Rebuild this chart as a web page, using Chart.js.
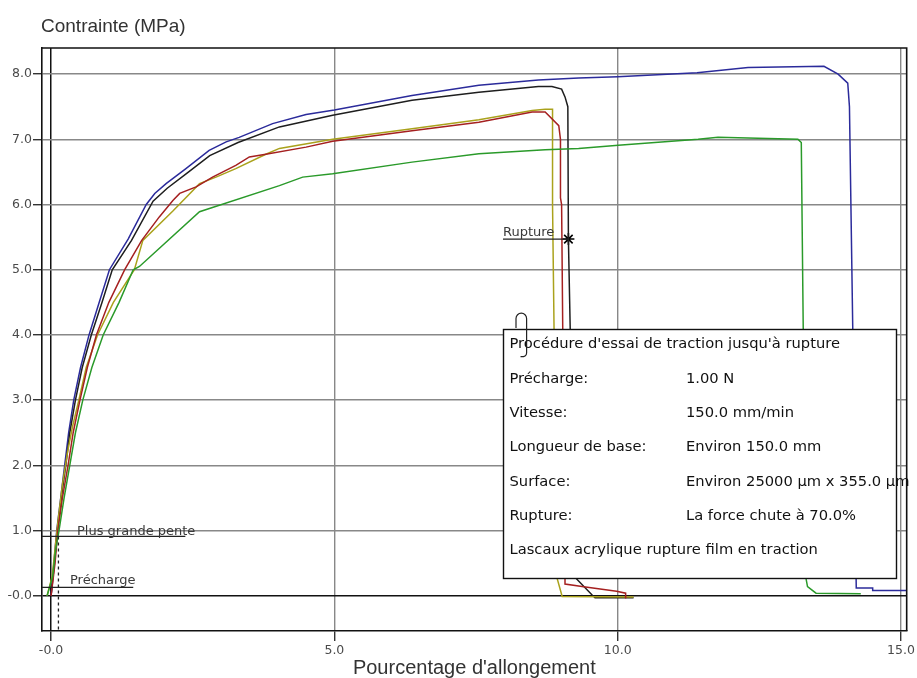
<!DOCTYPE html>
<html>
<head>
<meta charset="utf-8">
<script src="https://cdn.jsdelivr.net/npm/chart.js@4.4.1/dist/chart.umd.min.js"></script>
<style>
  html, body { margin: 0; padding: 0; background: #fff; }
  #wrap { width: 917px; height: 678px; }
</style>
</head>
<body>
<div id="wrap"><canvas id="chart" width="917" height="678"></canvas></div>
<script>
// Tensile test curves (strain %, stress MPa)
const blueStrain  = [0, 0.05, 0.1, 0.17, 0.24, 0.31, 0.4, 0.52, 0.67, 0.85, 1.03, 1.36, 1.68, 1.83, 2.03, 2.38, 2.79, 3.09, 3.32, 3.91, 4.5, 5.0, 6.37, 7.55, 8.6, 9.31, 10.0, 11.4, 12.3, 13.64, 13.89, 14.06, 14.09, 14.15, 14.21, 14.5, 14.5, 15.2];
const blueStress  = [0, 0.5, 1.0, 1.5, 2.0, 2.5, 3.0, 3.5, 4.0, 4.5, 5.0, 5.47, 6.0, 6.17, 6.32, 6.55, 6.83, 6.96, 7.03, 7.24, 7.38, 7.45, 7.67, 7.83, 7.91, 7.94, 7.96, 8.02, 8.1, 8.12, 8.0, 7.86, 7.5, 4.0, 0.12, 0.12, 0.08, 0.08];

const blackStrain = [0, 0.06, 0.11, 0.18, 0.26, 0.33, 0.43, 0.55, 0.71, 0.9, 1.08, 1.42, 1.8, 2.05, 2.4, 2.8, 3.3, 4.03, 4.97, 6.37, 7.55, 8.6, 8.84, 9.01, 9.07, 9.12, 9.13, 9.25, 9.54, 9.6, 10.28];
const blackStress = [0, 0.5, 1.0, 1.5, 2.0, 2.5, 3.0, 3.5, 4.0, 4.5, 5.0, 5.45, 6.05, 6.25, 6.48, 6.75, 6.95, 7.19, 7.37, 7.6, 7.72, 7.81, 7.81, 7.77, 7.65, 7.5, 5.47, 0.28, 0.02, -0.03, -0.03];

const redStrain   = [0, 0.07, 0.12, 0.2, 0.3, 0.39, 0.51, 0.64, 0.8, 1.02, 1.3, 1.6, 1.91, 2.15, 2.27, 2.56, 2.85, 3.26, 3.5, 3.79, 4.5, 4.97, 6.37, 7.55, 8.49, 8.72, 8.96, 8.99, 8.99, 9.01, 9.07, 9.07, 9.4, 9.98, 10.14, 10.14];
const redStress   = [0, 0.5, 1.0, 1.5, 2.0, 2.5, 3.0, 3.5, 4.0, 4.5, 5.0, 5.45, 5.81, 6.06, 6.17, 6.27, 6.42, 6.6, 6.73, 6.77, 6.88, 6.97, 7.13, 7.26, 7.42, 7.42, 7.21, 7.0, 6.1, 6.0, 0.28, 0.18, 0.14, 0.07, 0.04, -0.04];

const oliveStrain = [-0.07, 0.02, 0.08, 0.13, 0.2, 0.29, 0.38, 0.49, 0.62, 0.82, 1.1, 1.47, 1.62, 2.15, 2.62, 2.91, 3.26, 3.79, 4.03, 4.97, 6.37, 7.55, 8.49, 8.72, 8.85, 8.85, 8.93, 9.02, 10.28];
const oliveStress = [0, 0.3, 0.8, 1.2, 1.7, 2.2, 2.6, 3.0, 3.5, 4.0, 4.5, 5.0, 5.45, 5.9, 6.32, 6.42, 6.55, 6.77, 6.86, 7.0, 7.16, 7.3, 7.44, 7.46, 7.46, 6.0, 0.27, -0.01, -0.02];

const greenStrain = [-0.07, 0.03, 0.08, 0.14, 0.23, 0.33, 0.43, 0.56, 0.72, 0.92, 1.2, 1.45, 1.56, 2.62, 4.03, 4.44, 4.97, 6.37, 7.55, 8.72, 9.31, 10.01, 11.42, 11.77, 13.18, 13.24, 13.32, 13.35, 13.5, 14.29];
const greenStress = [0, 0.3, 0.7, 1.0, 1.5, 2.0, 2.5, 3.0, 3.5, 4.0, 4.5, 5.0, 5.05, 5.89, 6.29, 6.42, 6.47, 6.65, 6.78, 6.84, 6.86, 6.91, 7.0, 7.03, 7.0, 6.95, 0.28, 0.14, 0.04, 0.03];

// Rupture marker
const ruptureStrain = [9.13];
const ruptureStress = [5.47];

// Axis ticks
const strainTicks = [0, 5, 10, 15];
const stressTicks = [0, 1, 2, 3, 4, 5, 6, 7, 8];

// Test settings shown in the info box
const infoLabels = ['Précharge:', 'Vitesse:', 'Longueur de base:', 'Surface:', 'Rupture:'];
const infoValues = ['1.00 N', '150.0 mm/min', 'Environ 150.0 mm', 'Environ 25000 µm x 355.0 µm', 'La force chute à 70.0%'];

function pts(xs, ys) {
    return xs.map((x, i) => ({ x: x, y: ys[i] }));
}

function curve(xs, ys, color) {
    return {
        data: pts(xs, ys),
        borderColor: color,
        borderWidth: 1.5,
        pointRadius: 0,
        showLine: true,
        tension: 0,
        fill: false
    };
}

const tickLabel = v => v === 0 ? '-0.0' : v.toFixed(1);

// Frame, titles and annotations
const decorations = {
    id: 'decorations',
    afterDatasetsDraw(chart) {
        const { ctx, chartArea: a, scales } = chart;
        const xs = scales.x, ys = scales.y;
        ctx.save();

        // top and right frame
        ctx.strokeStyle = '#111';
        ctx.lineWidth = 1.6;
        ctx.beginPath();
        ctx.moveTo(a.left, a.top);
        ctx.lineTo(a.right, a.top);
        ctx.lineTo(a.right, a.bottom);
        ctx.stroke();

        // titles
        ctx.fillStyle = '#333';
        ctx.font = '19px "Liberation Sans", Arial, sans-serif';
        ctx.textAlign = 'left';
        ctx.textBaseline = 'alphabetic';
        ctx.fillText('Contrainte (MPa)', 41, 32);
        ctx.font = '20px "Liberation Sans", Arial, sans-serif';
        ctx.textAlign = 'center';
        ctx.fillText("Pourcentage d'allongement", (a.left + a.right) / 2, 674);

        // slope and preload markers
        ctx.strokeStyle = '#222';
        ctx.lineWidth = 1.3;
        const yPente = ys.getPixelForValue(0.91);
        const yPre = ys.getPixelForValue(0.13);
        ctx.beginPath();
        ctx.moveTo(a.left, yPente);
        ctx.lineTo(xs.getPixelForValue(2.37), yPente);
        ctx.moveTo(a.left, yPre);
        ctx.lineTo(xs.getPixelForValue(1.45), yPre);
        ctx.stroke();
        ctx.setLineDash([3, 3]);
        ctx.beginPath();
        const xd = xs.getPixelForValue(0.13);
        ctx.moveTo(xd, yPente);
        ctx.lineTo(xd, a.bottom);
        ctx.stroke();
        ctx.setLineDash([]);

        ctx.fillStyle = '#3a3a3a';
        ctx.font = '13px "DejaVu Sans", sans-serif';
        ctx.textAlign = 'left';
        ctx.fillText('Plus grande pente', 77, yPente - 1);
        ctx.fillText('Précharge', 70, yPre - 3);

        // rupture label
        const rx = xs.getPixelForValue(ruptureStrain[0]);
        const ry = ys.getPixelForValue(ruptureStress[0]);
        ctx.beginPath();
        ctx.moveTo(503, ry);
        ctx.lineTo(rx, ry);
        ctx.stroke();
        ctx.fillText('Rupture', 503, ry - 3);

        // info box
        const bx = 503.5, by = 329.5, bw = 393, bh = 249;
        ctx.fillStyle = '#fff';
        ctx.fillRect(bx, by, bw, bh);
        ctx.strokeStyle = '#111';
        ctx.lineWidth = 1.4;
        ctx.strokeRect(bx, by, bw, bh);

        ctx.fillStyle = '#111';
        ctx.font = '14.7px "DejaVu Sans", sans-serif';
        const step = 34.3;
        const base = 348.3;
        ctx.fillText("Procédure d'essai de traction jusqu'à rupture", 509.5, base);
        infoLabels.forEach((lab, i) => {
            const yy = base + step * (i + 1);
            ctx.fillText(lab, 509.5, yy);
            ctx.fillText(infoValues[i], 686, yy);
        });
        ctx.fillText('Lascaux acrylique rupture film en traction', 509.5, base + step * 6);

        // small clip glyph on the box corner
        ctx.strokeStyle = '#222';
        ctx.lineWidth = 1.2;
        ctx.beginPath();
        ctx.moveTo(516, 328);
        ctx.lineTo(516, 318.5);
        ctx.arc(521.3, 318.5, 5.3, Math.PI, 0);
        ctx.lineTo(526.6, 353);
        ctx.quadraticCurveTo(526.6, 357, 520.5, 356.7);
        ctx.stroke();

        ctx.restore();
    }
};

new Chart(document.getElementById('chart'), {
    type: 'scatter',
    data: {
        datasets: [
            curve(greenStrain, greenStress, '#2a9a2a'),
            curve(redStrain, redStress, '#a52020'),
            curve(oliveStrain, oliveStress, '#aaa21c'),
            curve(blackStrain, blackStress, '#1e1e1e'),
            curve(blueStrain, blueStress, '#2b2b9b'),
            {
                data: pts(ruptureStrain, ruptureStress),
                pointStyle: 'star',
                pointRadius: 6,
                borderColor: '#000',
                borderWidth: 1.6,
                showLine: false
            }
        ]
    },
    options: {
        responsive: false,
        animation: false,
        layout: { padding: { top: 48, right: 10, left: 0, bottom: 0 } },
        plugins: {
            legend: { display: false },
            tooltip: { enabled: false },
            title: { display: false }
        },
        scales: {
            x: {
                type: 'linear',
                min: -0.16,
                max: 15.1,
                afterFit: s => { s.height = 47; },
                afterBuildTicks: s => { s.ticks = strainTicks.map(v => ({ value: v })); },
                ticks: {
                    callback: tickLabel,
                    color: '#4a4a4a',
                    font: { family: 'DejaVu Sans', size: 12.5 },
                    padding: 2,
                    maxRotation: 0
                },
                grid: {
                    color: c => c.tick && c.tick.value === 0 ? '#111' : '#888',
                    lineWidth: c => c.tick && c.tick.value === 0 ? 1.5 : 1.4,
                    tickColor: '#333',
                    tickLength: 10
                },
                border: { display: true, color: '#111', width: 1.6 }
            },
            y: {
                type: 'linear',
                min: -0.54,
                max: 8.4,
                afterFit: s => { s.width = 42; },
                afterBuildTicks: s => { s.ticks = stressTicks.map(v => ({ value: v })); },
                ticks: {
                    callback: tickLabel,
                    color: '#4a4a4a',
                    font: { family: 'DejaVu Sans', size: 12.5 },
                    padding: 1
                },
                grid: {
                    color: c => c.tick && c.tick.value === 0 ? '#111' : '#888',
                    lineWidth: c => c.tick && c.tick.value === 0 ? 1.5 : 1.4,
                    tickColor: '#333',
                    tickLength: 9
                },
                border: { display: true, color: '#111', width: 1.6 }
            }
        }
    },
    plugins: [decorations]
});
</script>
</body>
</html>
